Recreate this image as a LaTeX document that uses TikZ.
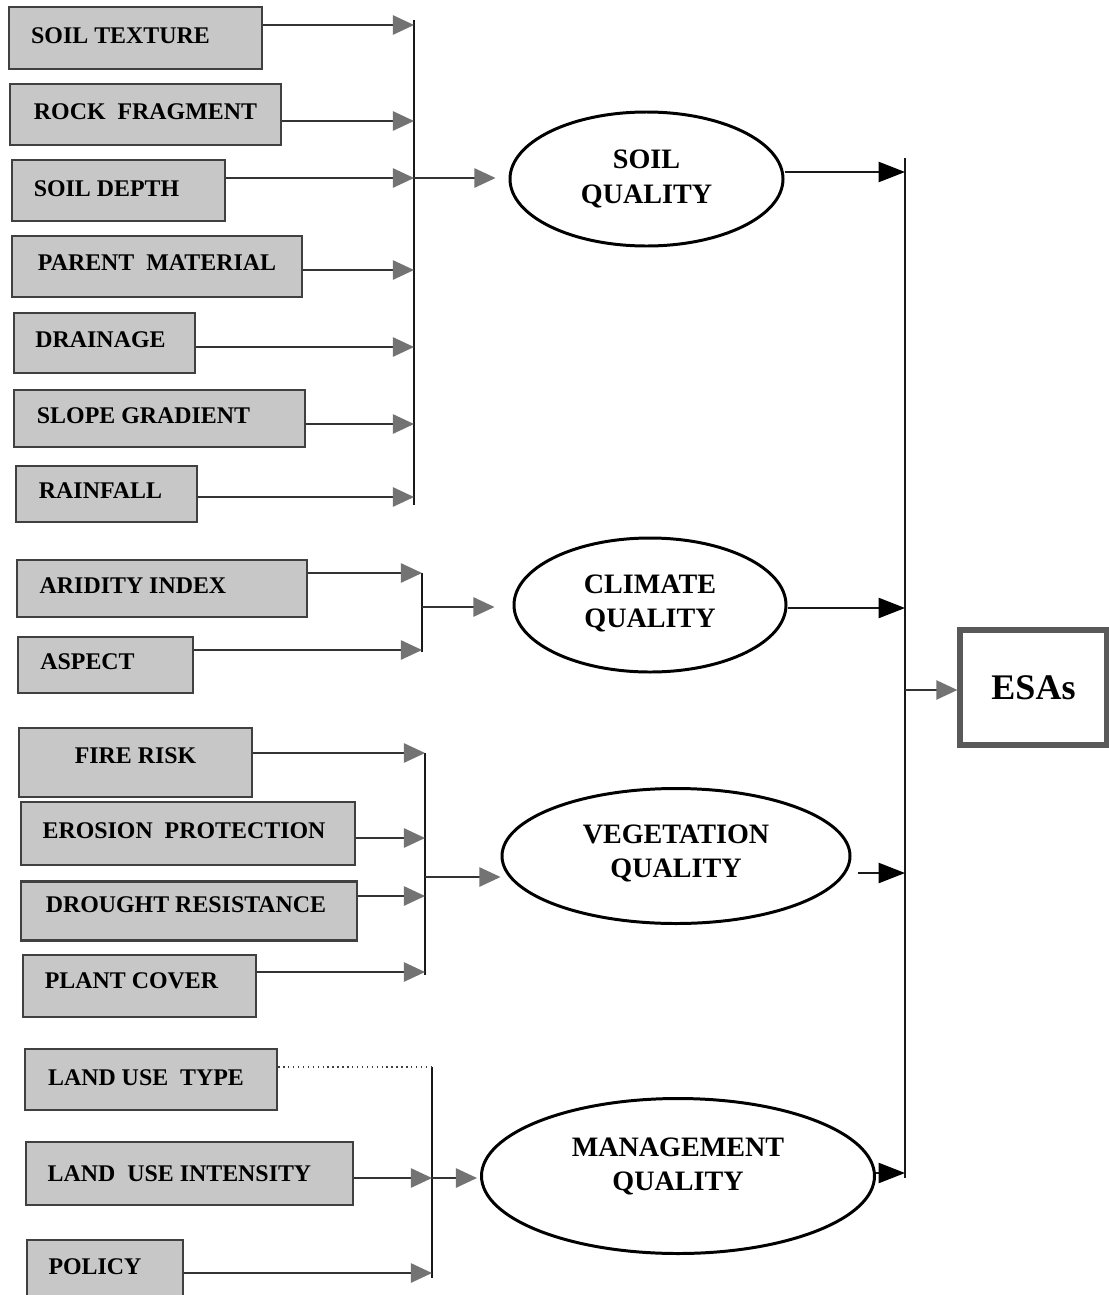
\documentclass[tikz,border=0pt]{standalone}
\usepackage{fontspec}
\setmainfont{Liberation Serif}
\usetikzlibrary{arrows.meta,shapes.geometric}
\newdimen\pxu \pxu=0.02cm
\tikzset{
 factor/.style={draw=black!75, fill=black!22, line width=1.4pt, inner sep=0pt, font=\fontsize{13.6}{15}\selectfont\bfseries},
 quality/.style={ellipse, draw=black, line width=1.7pt, fill=white, inner sep=0pt, align=center, font=\fontsize{16}{19.5}\selectfont\bfseries},
 esa/.style={draw=black!65, line width=3pt, fill=white, inner sep=0pt, font=\fontsize{20.5}{24}\selectfont\bfseries},
 bus/.style={draw=black!90, line width=1pt},
 garrow/.style={draw=black!80, line width=0.9pt, -{Triangle[length=12pt,width=11pt,color=black!55]}},
 barrow/.style={draw=black!90, line width=0.9pt, -{Triangle[length=15pt,width=11.5pt,color=black]}},
 dotline/.style={draw=black!75, line width=0.8pt, dotted},
}
\newcommand{\fbx}[8]{\node[factor, minimum width=#4\pxu, minimum height=#5\pxu, text depth=#8\pxu] (#1) at (#2,#3) {#6\hspace*{#7\pxu}};}
\begin{document}
\begin{tikzpicture}[x=0.02cm,y=-0.02cm]
\useasboundingbox (0,0) rectangle (1109,1295);
\clip (0,0) rectangle (1109,1295);
\fill[white] (0,0) rectangle (1109,1295);

% ---- factor boxes ----
\fbx{ST}{135.5}{38}{253}{62}{SOIL TEXTURE}{30}{4}
\fbx{RF}{145.5}{114.5}{271}{61}{ROCK\ \ FRAGMENT}{0}{6}
\fbx{SD}{118.5}{190.5}{213}{61}{SOIL DEPTH}{24}{4}
\fbx{PM}{157}{266.5}{290}{61}{PARENT\ \ MATERIAL}{0}{8}
\fbx{DR}{104.5}{343}{181}{60}{DRAINAGE}{8}{6}
\fbx{SG}{159.5}{418.5}{291}{57}{SLOPE GRADIENT}{32}{6}
\fbx{RA}{106.5}{494}{181}{56}{RAINFALL}{12}{6}
\fbx{AI}{162}{588.5}{290}{57}{ARIDITY INDEX}{58}{6}
\fbx{AS}{105.5}{665}{175}{56}{ASPECT}{36}{6}
\fbx{FR}{135.5}{762.5}{233}{69}{FIRE RISK}{0}{14}
\fbx{EP}{188}{833.5}{334}{63}{EROSION\ \ PROTECTION}{8}{6}
\fbx{DT}{189}{911}{336}{59}{DROUGHT RESISTANCE}{6}{12}
\fbx{PC}{139.5}{986}{233}{62}{PLANT COVER}{16}{10}
\fbx{LT}{151}{1079.5}{252}{61}{LAND USE\ \ TYPE}{10}{4}
\fbx{LI}{189.5}{1173.5}{327}{63}{LAND\ \ USE INTENSITY}{20}{0}
\fbx{PO}{105}{1270}{156}{60}{POLICY}{20}{6}

% ---- quality ellipses ----
\node[quality, minimum width=273\pxu, minimum height=134\pxu] (SQ) at (646.5,179) {SOIL\\QUALITY};
\node[quality, minimum width=272\pxu, minimum height=134\pxu, text depth=8\pxu] (CQ) at (650,605) {CLIMATE\\QUALITY};
\node[quality, minimum width=348\pxu, minimum height=135\pxu, text depth=10\pxu] (VQ) at (676,856) {VEGETATION\\QUALITY};
\node[quality, minimum width=393\pxu, minimum height=155\pxu, text depth=24\pxu] (MQ) at (678,1176) {MANAGEMENT\\QUALITY};

% ---- result ----
\node[esa, minimum width=147\pxu, minimum height=115\pxu] (ESA) at (1033.5,687.5) {ESAs};

% ---- soil bus ----
\coordinate (sT) at (414,20);
\coordinate (sB) at (414,505);
\coordinate (s1) at (414,25);
\coordinate (s2) at (414,121);
\coordinate (s3) at (414,178);
\coordinate (s4) at (414,270);
\coordinate (s5) at (414,347);
\coordinate (s6) at (414,424);
\coordinate (s7) at (414,497);
\draw[bus] (sT) -- (sB);
\draw[garrow] (ST.east |- s1) -- (s1);
\draw[garrow] (RF.east |- s2) -- (s2);
\draw[garrow] (SD.east |- s3) -- (s3);
\draw[garrow] (PM.east |- s4) -- (s4);
\draw[garrow] (DR.east |- s5) -- (s5);
\draw[garrow] (SG.east |- s6) -- (s6);
\draw[garrow] (RA.east |- s7) -- (s7);
\draw[garrow, shorten >=13\pxu] (s3) -- (SQ.west |- s3);

% ---- climate bus ----
\coordinate (c1) at (422,573);
\coordinate (c2) at (422,650);
\coordinate (cB) at (422,652);
\coordinate (cj) at (422,607);
\draw[bus] (c1) -- (cB);
\draw[garrow] (AI.east |- c1) -- (c1);
\draw[garrow] (AS.east |- c2) -- (c2);
\draw[garrow, shorten >=18\pxu] (cj) -- (CQ.west |- cj);

% ---- vegetation bus ----
\coordinate (v1) at (425,753);
\coordinate (v2) at (425,838);
\coordinate (v3) at (425,896);
\coordinate (v4) at (425,972);
\coordinate (vB) at (425,975);
\coordinate (vj) at (425,877);
\draw[bus] (v1) -- (vB);
\draw[garrow] (FR.east |- v1) -- (v1);
\draw[garrow] (EP.east |- v2) -- (v2);
\draw[garrow] (DT.east |- v3) -- (v3);
\draw[garrow] (PC.east |- v4) -- (v4);
\draw[garrow] (vj) -- (VQ.west |- vj);

% ---- management bus ----
\coordinate (m1) at (432,1067);
\coordinate (m2) at (432,1178);
\coordinate (m3) at (432,1273);
\coordinate (mB) at (432,1278);
\draw[bus] (m1) -- (mB);
\draw[dotline] (LT.east |- m1) -- (m1);
\draw[garrow] (LI.east |- m2) -- (m2);
\draw[garrow] (PO.east |- m3) -- (m3);
\draw[garrow, shorten >=3\pxu] (m2) -- (MQ.west |- m2);

% ---- right bus ----
\coordinate (rT) at (905,158);
\coordinate (rB) at (905,1178);
\coordinate (r1) at (905,172);
\coordinate (r2) at (905,608);
\coordinate (r3) at (905,873);
\coordinate (r4) at (905,1173);
\coordinate (re) at (905,690);
\draw[bus] (rT) -- (rB);
\draw[barrow] (SQ.east |- r1) -- (r1);
\draw[barrow] (CQ.east |- r2) -- (r2);
\draw[barrow, shorten <=6\pxu] (VQ.east |- r3) -- (r3);
\draw[barrow] (MQ.east |- r4) -- (r4);
\draw[garrow] (re) -- (ESA.west |- re);
\end{tikzpicture}
\end{document}
